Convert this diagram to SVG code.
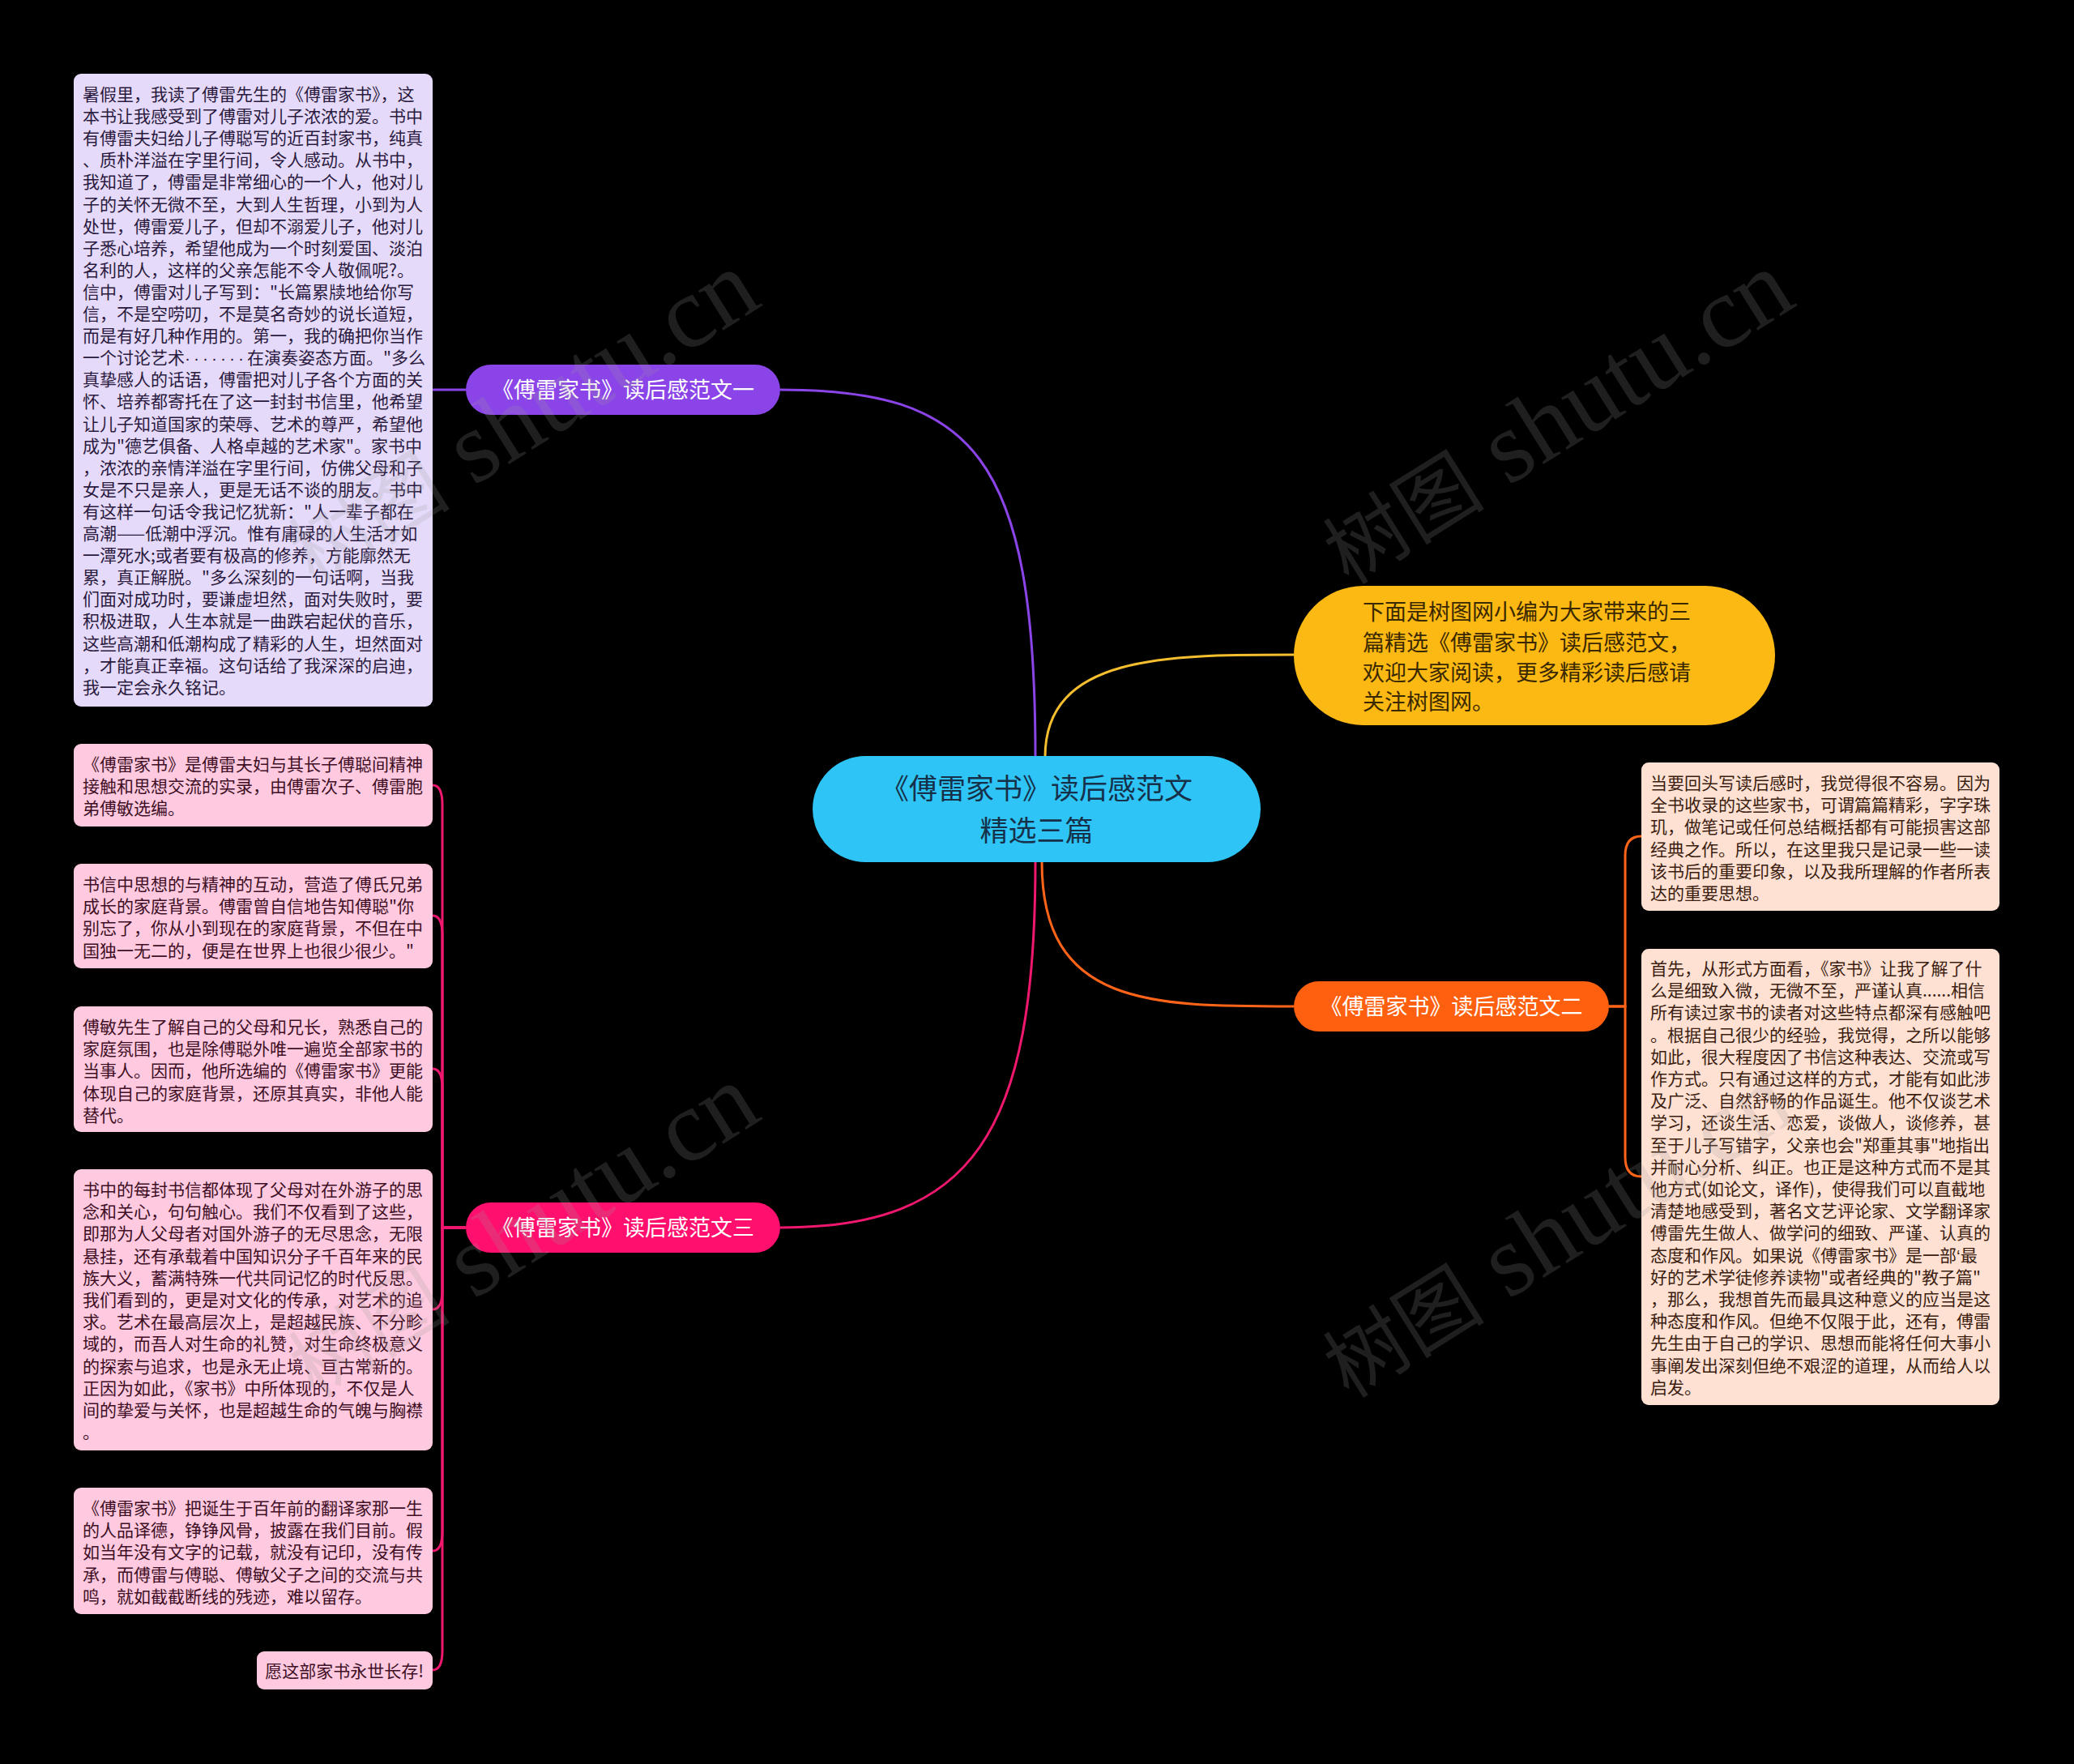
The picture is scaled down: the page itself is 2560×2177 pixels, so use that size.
<svg xmlns="http://www.w3.org/2000/svg" width="2560" height="2177" viewBox="0 0 2560 2177">
<style>
.bg{fill:#000}
.t{font-family:"Noto Sans CJK SC","Noto Sans",sans-serif;font-size:21px}
.lav{fill:#E6DAFB}
.pink{fill:#FFCADF}
.peach{fill:#FFE1D4}
.tl{fill:#2A1A3E}
.tp{fill:#3E0F25}
.tc{fill:#3B1E10}
.nar{font-family:"Liberation Sans",sans-serif}
.lbl{font-family:"Noto Sans CJK SC","Noto Sans",sans-serif;font-size:27px;fill:#FFFFFF;text-anchor:middle}
.ctr{font-family:"Noto Sans CJK SC","Noto Sans",sans-serif;font-size:35px;fill:#16304A;text-anchor:middle}
.con{fill:none;stroke-width:3}
.wm{fill:#9a9a9a;opacity:0.2}
.wmc{font-family:"Noto Sans CJK SC",sans-serif;font-size:100px}
.wms{font-family:"Liberation Serif",serif;font-size:126px}
</style>
<rect class="bg" x="0" y="0" width="2560" height="2177"/>

<g id="connectors">
  <path class="con" stroke="#8B44E8" d="M963 481 C1200 481 1278 560 1278 934"/>
  <path class="con" stroke="#F5BE2E" d="M1290 934 C1290 808 1440 808 1597 808"/>
  <path class="con" stroke="#FF6418" d="M1286 1064 C1286 1242 1420 1242 1597 1242"/>
  <path class="con" stroke="#F0186E" d="M1278 1064 C1278 1400 1200 1515 963 1515"/>
  <path class="con" stroke="#8B44E8" d="M575 481 H534"/>
  <path class="con" stroke="#FF6418" d="M1986 1242 H2006 V1056 Q2006 1032 2026 1032"/>
  <path class="con" stroke="#FF6418" d="M1986 1242 H2006 V1428 Q2006 1452 2026 1452"/>
  <path class="con" stroke="#F0186E" d="M575 1515 H546 V993 Q546 969 534 969"/>
  <path class="con" stroke="#F0186E" d="M575 1515 H546 V1154 Q546 1130 534 1130"/>
  <path class="con" stroke="#F0186E" d="M575 1515 H546 V1343 Q546 1319 534 1319"/>
  <path class="con" stroke="#F0186E" d="M575 1515 H546 V1592 Q546 1616 534 1616"/>
  <path class="con" stroke="#F0186E" d="M575 1515 H546 V1890 Q546 1914 534 1914"/>
  <path class="con" stroke="#F0186E" d="M575 1515 H546 V2037 Q546 2061 534 2061"/>
</g>

<g id="center">
  <rect x="1003" y="933" width="553" height="131" rx="65.5" fill="#2EC5F6"/>
  <text class="ctr" x="1279.5" y="986">《傅雷家书》读后感范文</text>
  <text class="ctr" x="1279.5" y="1037.5">精选三篇</text>
</g>

<g id="intro">
  <rect x="1597" y="723" width="594" height="172" rx="86" fill="#FDB913"/>
  <text style="font-family:'Noto Sans CJK SC',sans-serif;font-size:27px;fill:#3A2800">
    <tspan x="1682" y="765">下面是树图网小编为大家带来的三</tspan>
    <tspan x="1682" y="803">篇精选《傅雷家书》读后感范文，</tspan>
    <tspan x="1682" y="840">欢迎大家阅读，更多精彩读后感请</tspan>
    <tspan x="1682" y="876">关注树图网。</tspan>
  </text>
</g>

<g id="branch1">
  <rect x="575" y="450" width="388" height="62" rx="31" fill="#8B44E8"/>
  <text class="lbl" x="769" y="491">《傅雷家书》读后感范文一</text>
</g>

<g id="branch2">
  <rect x="1597" y="1211" width="389" height="62" rx="31" fill="#FF600F"/>
  <text class="lbl" x="1791.5" y="1252">《傅雷家书》读后感范文二</text>
</g>

<g id="branch3">
  <rect x="575" y="1484" width="388" height="62" rx="31" fill="#FF0F6E"/>
  <text class="lbl" x="769" y="1525">《傅雷家书》读后感范文三</text>
</g>

<g id="essay1">
  <rect class="lav" x="91" y="91" width="443" height="781" rx="9"/>
  <text class="t tl">
    <tspan x="102" y="124">暑假里，我读了傅雷先生的《傅雷家书》，这</tspan>
    <tspan x="102" y="151.1">本书让我感受到了傅雷对儿子浓浓的爱。书中</tspan>
    <tspan x="102" y="178.2">有傅雷夫妇给儿子傅聪写的近百封家书，纯真</tspan>
    <tspan x="102" y="205.3">、质朴洋溢在字里行间，令人感动。从书中，</tspan>
    <tspan x="102" y="232.4">我知道了，傅雷是非常细心的一个人，他对儿</tspan>
    <tspan x="102" y="259.5">子的关怀无微不至，大到人生哲理，小到为人</tspan>
    <tspan x="102" y="286.6">处世，傅雷爱儿子，但却不溺爱儿子，他对儿</tspan>
    <tspan x="102" y="313.7">子悉心培养，希望他成为一个时刻爱国、淡泊</tspan>
    <tspan x="102" y="340.8">名利的人，这样的父亲怎能不令人敬佩呢?。</tspan>
    <tspan x="102" y="367.9">信中，傅雷对儿子写到："长篇累牍地给你写</tspan>
    <tspan x="102" y="395">信，不是空唠叨，不是莫名奇妙的说长道短，</tspan>
    <tspan x="102" y="422.1">而是有好几种作用的。第一，我的确把你当作</tspan>
    <tspan x="102" y="449.2">一个讨论艺术<tspan class="nar" letter-spacing="4">·······</tspan>在演奏姿态方面。"多么</tspan>
    <tspan x="102" y="476.3">真挚感人的话语，傅雷把对儿子各个方面的关</tspan>
    <tspan x="102" y="503.4">怀、培养都寄托在了这一封封书信里，他希望</tspan>
    <tspan x="102" y="530.5">让儿子知道国家的荣辱、艺术的尊严，希望他</tspan>
    <tspan x="102" y="557.6">成为"德艺俱备、人格卓越的艺术家"。家书中</tspan>
    <tspan x="102" y="584.7">，浓浓的亲情洋溢在字里行间，仿佛父母和子</tspan>
    <tspan x="102" y="611.8">女是不只是亲人，更是无话不谈的朋友。书中</tspan>
    <tspan x="102" y="638.9">有这样一句话令我记忆犹新："人一辈子都在</tspan>
    <tspan x="102" y="666">高潮——低潮中浮沉。惟有庸碌的人生活才如</tspan>
    <tspan x="102" y="693.1">一潭死水;或者要有极高的修养，方能廓然无</tspan>
    <tspan x="102" y="720.2">累，真正解脱。"多么深刻的一句话啊，当我</tspan>
    <tspan x="102" y="747.3">们面对成功时，要谦虚坦然，面对失败时，要</tspan>
    <tspan x="102" y="774.4">积极进取，人生本就是一曲跌宕起伏的音乐，</tspan>
    <tspan x="102" y="801.5">这些高潮和低潮构成了精彩的人生，坦然面对</tspan>
    <tspan x="102" y="828.6">，才能真正幸福。这句话给了我深深的启迪，</tspan>
    <tspan x="102" y="855.7">我一定会永久铭记。</tspan>
  </text>
</g>

<g id="essay2a">
  <rect class="peach" x="2026" y="941" width="442" height="183" rx="9"/>
  <text class="t tc">
    <tspan x="2037" y="974">当要回头写读后感时，我觉得很不容易。因为</tspan>
    <tspan x="2037" y="1001.2">全书收录的这些家书，可谓篇篇精彩，字字珠</tspan>
    <tspan x="2037" y="1028.4">玑，做笔记或任何总结概括都有可能损害这部</tspan>
    <tspan x="2037" y="1055.6">经典之作。所以，在这里我只是记录一些一读</tspan>
    <tspan x="2037" y="1082.8">该书后的重要印象，以及我所理解的作者所表</tspan>
    <tspan x="2037" y="1110">达的重要思想。</tspan>
  </text>
</g>

<g id="essay2b">
  <rect class="peach" x="2026" y="1171" width="442" height="563" rx="9"/>
  <text class="t tc">
    <tspan x="2037" y="1203">首先，从形式方面看，《家书》让我了解了什</tspan>
    <tspan x="2037" y="1230.2">么是细致入微，无微不至，严谨认真......相信</tspan>
    <tspan x="2037" y="1257.4">所有读过家书的读者对这些特点都深有感触吧</tspan>
    <tspan x="2037" y="1284.6">。根据自己很少的经验，我觉得，之所以能够</tspan>
    <tspan x="2037" y="1311.8">如此，很大程度因了书信这种表达、交流或写</tspan>
    <tspan x="2037" y="1339">作方式。只有通过这样的方式，才能有如此涉</tspan>
    <tspan x="2037" y="1366.2">及广泛、自然舒畅的作品诞生。他不仅谈艺术</tspan>
    <tspan x="2037" y="1393.4">学习，还谈生活、恋爱，谈做人，谈修养，甚</tspan>
    <tspan x="2037" y="1420.6">至于儿子写错字，父亲也会"郑重其事"地指出</tspan>
    <tspan x="2037" y="1447.8">并耐心分析、纠正。也正是这种方式而不是其</tspan>
    <tspan x="2037" y="1475">他方式(如论文，译作)，使得我们可以直截地</tspan>
    <tspan x="2037" y="1502.2">清楚地感受到，著名文艺评论家、文学翻译家</tspan>
    <tspan x="2037" y="1529.4">傅雷先生做人、做学问的细致、严谨、认真的</tspan>
    <tspan x="2037" y="1556.6">态度和作风。如果说《傅雷家书》是一部<tspan class="nar">‘</tspan>最</tspan>
    <tspan x="2037" y="1583.8">好的艺术学徒修养读物"或者经典的"教子篇"</tspan>
    <tspan x="2037" y="1611">，那么，我想首先而最具这种意义的应当是这</tspan>
    <tspan x="2037" y="1638.2">种态度和作风。但绝不仅限于此，还有，傅雷</tspan>
    <tspan x="2037" y="1665.4">先生由于自己的学识、思想而能将任何大事小</tspan>
    <tspan x="2037" y="1692.6">事阐发出深刻但绝不艰涩的道理，从而给人以</tspan>
    <tspan x="2037" y="1719.8">启发。</tspan>
  </text>
</g>

<g id="essay3a">
  <rect class="pink" x="91" y="918" width="443" height="102" rx="9"/>
  <text class="t tp">
    <tspan x="102" y="951">《傅雷家书》是傅雷夫妇与其长子傅聪间精神</tspan>
    <tspan x="102" y="978.2">接触和思想交流的实录，由傅雷次子、傅雷胞</tspan>
    <tspan x="102" y="1005.4">弟傅敏选编。</tspan>
  </text>
</g>

<g id="essay3b">
  <rect class="pink" x="91" y="1066" width="443" height="129" rx="9"/>
  <text class="t tp">
    <tspan x="102" y="1099">书信中思想的与精神的互动，营造了傅氏兄弟</tspan>
    <tspan x="102" y="1126.2">成长的家庭背景。傅雷曾自信地告知傅聪"你</tspan>
    <tspan x="102" y="1153.4">别忘了，你从小到现在的家庭背景，不但在中</tspan>
    <tspan x="102" y="1180.6">国独一无二的，便是在世界上也很少很少。"</tspan>
  </text>
</g>

<g id="essay3c">
  <rect class="pink" x="91" y="1242" width="443" height="155" rx="9"/>
  <text class="t tp">
    <tspan x="102" y="1275">傅敏先生了解自己的父母和兄长，熟悉自己的</tspan>
    <tspan x="102" y="1302.2">家庭氛围，也是除傅聪外唯一遍览全部家书的</tspan>
    <tspan x="102" y="1329.4">当事人。因而，他所选编的《傅雷家书》更能</tspan>
    <tspan x="102" y="1356.6">体现自己的家庭背景，还原其真实，非他人能</tspan>
    <tspan x="102" y="1383.8">替代。</tspan>
  </text>
</g>

<g id="essay3d">
  <rect class="pink" x="91" y="1443" width="443" height="347" rx="9"/>
  <text class="t tp">
    <tspan x="102" y="1476">书中的每封书信都体现了父母对在外游子的思</tspan>
    <tspan x="102" y="1503.2">念和关心，句句触心。我们不仅看到了这些，</tspan>
    <tspan x="102" y="1530.4">即那为人父母者对国外游子的无尽思念，无限</tspan>
    <tspan x="102" y="1557.6">悬挂，还有承载着中国知识分子千百年来的民</tspan>
    <tspan x="102" y="1584.8">族大义，蓄满特殊一代共同记忆的时代反思。</tspan>
    <tspan x="102" y="1612">我们看到的，更是对文化的传承，对艺术的追</tspan>
    <tspan x="102" y="1639.2">求。艺术在最高层次上，是超越民族、不分畛</tspan>
    <tspan x="102" y="1666.4">域的，而吾人对生命的礼赞，对生命终极意义</tspan>
    <tspan x="102" y="1693.6">的探索与追求，也是永无止境、亘古常新的。</tspan>
    <tspan x="102" y="1720.8">正因为如此，《家书》中所体现的，不仅是人</tspan>
    <tspan x="102" y="1748">间的挚爱与关怀，也是超越生命的气魄与胸襟</tspan>
    <tspan x="102" y="1775.2">。</tspan>
  </text>
</g>

<g id="essay3e">
  <rect class="pink" x="91" y="1836" width="443" height="156" rx="9"/>
  <text class="t tp">
    <tspan x="102" y="1869">《傅雷家书》把诞生于百年前的翻译家那一生</tspan>
    <tspan x="102" y="1896.2">的人品译德，铮铮风骨，披露在我们目前。假</tspan>
    <tspan x="102" y="1923.4">如当年没有文字的记载，就没有记印，没有传</tspan>
    <tspan x="102" y="1950.6">承，而傅雷与傅聪、傅敏父子之间的交流与共</tspan>
    <tspan x="102" y="1977.8">鸣，就如截截断线的残迹，难以留存。</tspan>
  </text>
</g>

<g id="essay3f">
  <rect class="pink" x="317" y="2038" width="217" height="47" rx="9"/>
  <text class="t tp" x="523" y="2069.5" text-anchor="end">愿这部家书永世长存!</text>
</g>

<g id="watermarks">
  <text class="wm" transform="translate(1665 723) rotate(-32)"><tspan class="wmc">树图</tspan><tspan class="wms"> shutu.cn</tspan></text>
  <text class="wm" transform="translate(388 723) rotate(-32)"><tspan class="wmc">树图</tspan><tspan class="wms"> shutu.cn</tspan></text>
  <text class="wm" transform="translate(388 1727) rotate(-32)"><tspan class="wmc">树图</tspan><tspan class="wms"> shutu.cn</tspan></text>
  <text class="wm" transform="translate(1665 1727) rotate(-32)"><tspan class="wmc">树图</tspan><tspan class="wms"> shutu.cn</tspan></text>
</g>
</svg>
